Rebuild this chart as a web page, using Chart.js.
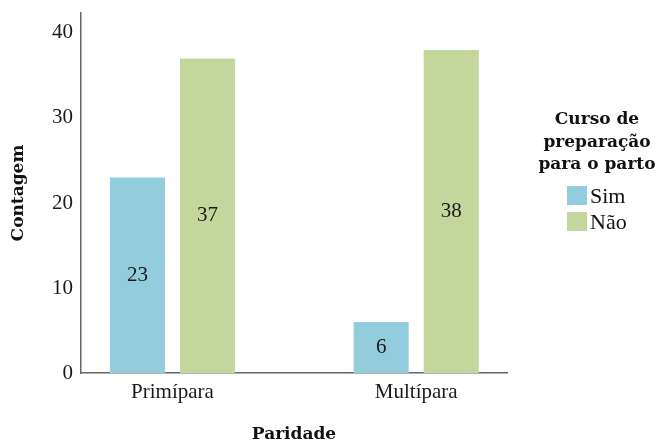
<!DOCTYPE html>
<html lang="pt">
<head>
<meta charset="UTF-8">
<title>Paridade x Curso de preparação para o parto</title>
<script src="https://cdn.jsdelivr.net/npm/chart.js"></script>
<style>
  html, body { margin: 0; padding: 0; background: #fff; }
  #wrap { position: relative; width: 660px; height: 445px; }
  #legendTitle {
    position: absolute; left: 527px; top: 107px; width: 140px;
    text-align: center; font: bold 17px "DejaVu Serif"; line-height: 22.5px; color: #111;
  }
  .swatch { position: absolute; left: 567px; width: 20px; height: 19px; }
  .item { position: absolute; left: 590px; font: 22px "Liberation Serif"; line-height: 25px; color: #111; }
</style>
</head>
<body>
<div id="wrap">
  <canvas id="myChart" width="660" height="445"></canvas>
  <div id="legendTitle"></div>
</div>
<script>
  // data
  const categories = ['Primípara', 'Multípara'];
  const simValues = [23, 6];
  const naoValues = [37, 38];
  const seriesNames = ['Sim', 'Não'];
  const seriesColors = ['#93cddd', '#c3d69b'];
  const yTicks = [0, 10, 20, 30, 40];
  const legendTitle = ['Curso de', 'preparação', 'para o parto'];

  const toPoints = vals => vals.map((v, i) => ({ x: i, y: v }));

  // numbers drawn in the middle of each bar
  const barLabels = {
    id: 'barLabels',
    afterDatasetsDraw(chart) {
      const ctx = chart.ctx;
      ctx.save();
      ctx.font = '21px "Liberation Serif"';
      ctx.fillStyle = '#1a1a1a';
      ctx.textAlign = 'center';
      ctx.textBaseline = 'middle';
      chart.data.datasets.forEach((ds, i) => {
        chart.getDatasetMeta(i).data.forEach((bar, j) => {
          const { x, y, base } = bar.getProps(['x', 'y', 'base'], true);
          ctx.fillText(ds.data[j].y, x, (y + base) / 2);
        });
      });
      ctx.restore();
    }
  };

  const ctx = document.getElementById('myChart').getContext('2d');
  const chart = new Chart(ctx, {
    type: 'bar',
    data: {
      datasets: [
        { label: seriesNames[0], data: toPoints(simValues), backgroundColor: seriesColors[0] },
        { label: seriesNames[1], data: toPoints(naoValues), backgroundColor: seriesColors[1] }
      ]
    },
    plugins: [barLabels],
    options: {
      responsive: false,
      animation: false,
      categoryPercentage: 0.575,
      barPercentage: 0.786,
      layout: { padding: { top: 13, right: 153, bottom: 0, left: 0 } },
      plugins: {
        legend: { display: false },
        tooltip: { enabled: false }
      },
      scales: {
        x: {
          type: 'linear',
          offset: false,
          min: -0.3755,
          max: 1.3726,
          grid: { display: false, drawTicks: false },
          border: { display: true, color: '#666', width: 1.5 },
          afterBuildTicks: s => { s.ticks = categories.map((c, i) => ({ value: i })); },
          afterFit: s => { s.height = 72; s.paddingLeft = 0; s.paddingRight = 0; },
          ticks: {
            padding: 7,
            maxRotation: 0,
            autoSkip: false,
            color: '#1a1a1a',
            font: { family: 'Liberation Serif', size: 21 },
            callback: v => categories[v]
          },
          title: {
            display: true,
            text: 'Paridade',
            color: '#111',
            padding: { top: -5, bottom: 0 },
            font: { family: 'DejaVu Serif', size: 17, weight: 'bold' }
          }
        },
        y: {
          min: 0,
          max: 42.35,
          grid: { display: false, drawTicks: false },
          border: { display: true, color: '#666', width: 1.5 },
          afterBuildTicks: s => { s.ticks = yTicks.map(v => ({ value: v })); },
          afterFit: s => { s.width = 81; s.paddingTop = 0; s.paddingBottom = 0; },
          ticks: {
            padding: 8,
            color: '#1a1a1a',
            font: { family: 'Liberation Serif', size: 21 }
          },
          title: {
            display: true,
            text: 'Contagem',
            color: '#111',
            padding: { top: 8, bottom: 0 },
            font: { family: 'DejaVu Serif', size: 17, weight: 'bold' }
          }
        }
      }
    }
  });

  // legend on the right, built from the datasets
  const wrap = document.getElementById('wrap');
  document.getElementById('legendTitle').innerHTML = legendTitle.join('<br>');
  chart.data.datasets.forEach((ds, i) => {
    const sw = document.createElement('div');
    sw.className = 'swatch';
    sw.style.top = (186 + i * 25.5) + 'px';
    sw.style.background = ds.backgroundColor;
    wrap.appendChild(sw);
    const tx = document.createElement('div');
    tx.className = 'item';
    tx.style.top = (183 + i * 25.5) + 'px';
    tx.textContent = ds.label;
    wrap.appendChild(tx);
  });
</script>
</body>
</html>
